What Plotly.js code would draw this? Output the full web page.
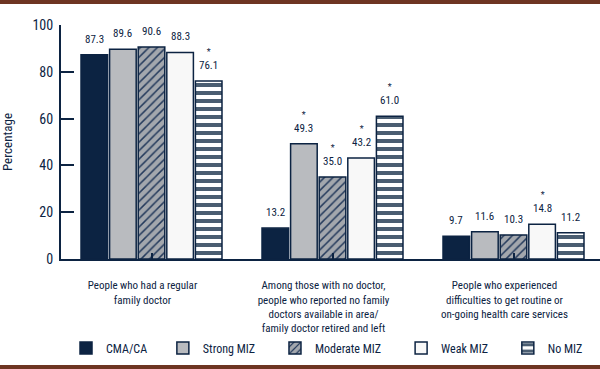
<!DOCTYPE html>
<html>
<head>
<meta charset="utf-8">
<script src="https://cdn.plot.ly/plotly-3.0.1.min.js"></script>
<style>
html,body{margin:0;padding:0;background:#fff;}
#wrap{position:relative;width:600px;height:369px;overflow:hidden;}
#chart{position:absolute;left:0;top:0;width:600px;height:369px;}
.band{position:absolute;left:0;width:600px;height:4px;background:#6e3522;z-index:5;}
</style>
</head>
<body>
<div id="wrap">
  <div id="chart"></div>
  <div class="band" style="top:0"></div>
  <div class="band" style="bottom:0"></div>
</div>
<script>
// ---- data ----
var categories = [
  "People who had a regular<br>family doctor",
  "Among those with no doctor,<br>people who reported no family<br>doctors available in area/<br>family doctor retired and left",
  "People who experienced<br>difficulties to get routine or<br>on-going health care services"
];
var seriesNames = ["CMA/CA", "Strong MIZ", "Moderate MIZ", "Weak MIZ", "No MIZ"];
var cmaValues      = [87.3, 13.2, 9.7];
var strongValues   = [89.6, 49.3, 11.6];
var moderateValues = [90.6, 35.0, 10.3];
var weakValues     = [88.3, 43.2, 14.8];
var noMizValues    = [76.1, 61.0, 11.2];
// significance markers (*)
var cmaSig      = [false, false, false];
var strongSig   = [false, true, false];
var moderateSig = [false, true, false];
var weakSig     = [false, true, true];
var noMizSig    = [true, true, false];
var yTickVals = [0, 20, 40, 60, 80, 100];

// ---- styling ----
var NAVY = "#0c2342";
var FONT = "'Roboto Condensed', 'DejaVu Sans Condensed', sans-serif";
var BARGAP = 0.21, GROUPGAP = 0.07;
var legendX = [0.0093, 0.189, 0.397, 0.631, 0.829];

var allValues = [cmaValues, strongValues, moderateValues, weakValues, noMizValues];
var allSig = [cmaSig, strongSig, moderateSig, weakSig, noMizSig];
var markers = [
  {color: NAVY, line: {color: NAVY, width: 1.5}},
  {color: "#b9bbbf", line: {color: NAVY, width: 1.5}},
  {color: "#a3a7ad", line: {color: NAVY, width: 1.5},
   pattern: {shape: "/", bgcolor: "#a3a7ad", fgcolor: "#243a5c", size: 6, solidity: 0.25}},
  {color: "#f8f8f8", line: {color: NAVY, width: 1.5}},
  {color: "#ffffff", line: {color: NAVY, width: 1.5},
   pattern: {shape: "-", bgcolor: "#ffffff", fgcolor: "#4a5d71", size: 8, solidity: 0.5}}
];

var legendIds = ["legend", "legend2", "legend3", "legend4", "legend5"];

var traces = allValues.map(function(vals, k){
  return {
    type: "bar",
    name: seriesNames[k],
    x: [0, 1, 2],
    y: vals,
    marker: markers[k],
    legend: legendIds[k],
    hoverinfo: "skip"
  };
});

// value labels positioned from the same grouping parameters the bars use
var nSeries = allValues.length;
var slot = (1 - BARGAP) / nSeries;
var annotations = [];
allValues.forEach(function(vals, k){
  var off = -(1 - BARGAP) / 2 + slot * (k + 0.5);
  vals.forEach(function(v, i){
    annotations.push({
      x: i + off, y: v, xref: "x", yref: "y",
      text: (allSig[k][i] ? "<span style='font-size:9px'>*</span><br>" : "") + v.toFixed(1),
      showarrow: false, yanchor: "bottom", yshift: 7,
      font: {family: FONT, size: 11, color: NAVY}
    });
  });
});

var layout = {
  width: 600, height: 369,
  margin: {l: 61, r: 0, t: 25, b: 110},
  paper_bgcolor: "#ffffff", plot_bgcolor: "#ffffff",
  barmode: "group", bargap: BARGAP, bargroupgap: GROUPGAP,
  font: {family: FONT, color: NAVY},
  xaxis: {
    range: [-0.5, -0.5 + 539 / 181],
    tickvals: [0, 1, 2], ticktext: categories,
    showline: true, linecolor: NAVY, linewidth: 2,
    ticks: "inside", tickson: "boundaries", ticklen: 6, tickwidth: 2, tickcolor: NAVY,
    showgrid: false, zeroline: false,
    tickfont: {family: FONT, size: 11, color: NAVY},
    ticklabelstandoff: 15, ticklabelshift: -9
  },
  yaxis: {
    range: [0, 100], tickvals: yTickVals,
    showline: true, linecolor: NAVY, linewidth: 2,
    ticks: "inside", ticklen: 13, tickwidth: 2, tickcolor: NAVY,
    showgrid: false, zeroline: false,
    tickfont: {family: FONT, size: 14, color: NAVY},
    ticklabelstandoff: 3,
    title: {text: "Percentage", font: {family: FONT, size: 13, color: NAVY}, standoff: 25}
  },
  showlegend: true,
  annotations: annotations
};

legendIds.forEach(function(id, k){
  layout[id] = {
    orientation: "h", x: legendX[k], xanchor: "left", y: -0.38, yanchor: "middle",
    font: {family: FONT, size: 12, color: NAVY},
    itemclick: false, bgcolor: "rgba(0,0,0,0)"
  };
});

Plotly.newPlot("chart", traces, layout, {displayModeBar: false, staticPlot: true});
</script>
</body>
</html>
